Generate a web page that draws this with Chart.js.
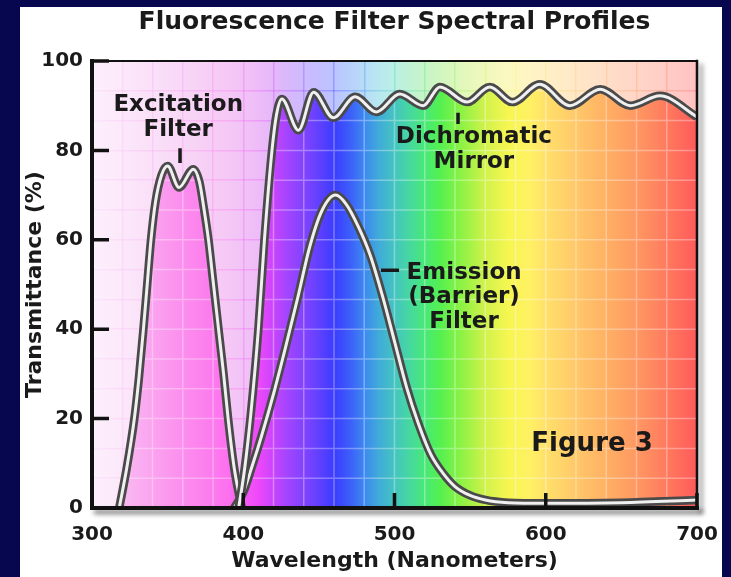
<!DOCTYPE html>
<html>
<head>
<meta charset="utf-8">
<title>Fluorescence Filter Spectral Profiles</title>
<script src="https://cdn.jsdelivr.net/npm/chart.js@4.4.1/dist/chart.umd.min.js"></script>
<style>
  html, body { margin: 0; padding: 0; background: #07074f; }
  body { width: 731px; height: 577px; overflow: hidden; position: relative; }
  #panel { position: absolute; left: 20px; top: 7px; width: 702px; height: 570px; background: #fff; }
  canvas { display: block; }
</style>
</head>
<body>
<div id="panel"><canvas id="chart" width="702" height="570"></canvas></div>
<script>
// ---- data: wavelength (nm) / transmittance (%) ----
const excitationNm = [318, 323, 328, 331, 334, 336.5, 339, 342, 346, 350, 357.5, 367, 371, 374, 377, 380, 384, 387, 390, 394, 399];
const excitationT  = [0, 9, 20, 29, 40, 50, 60, 68.5, 74.5, 76.5, 71.7, 75.8, 73, 67, 60, 51, 39, 30, 20, 9, 0];

const mirrorNm = [397, 401, 405, 410, 414, 419, 422, 425.5, 436.5, 446.5, 459.5, 474, 488, 503.5, 519, 530, 548, 563, 578, 596, 616, 636, 656, 675.5, 700];
const mirrorT  = [0, 9, 21, 40, 60, 80, 88, 91.5, 84.5, 93, 87.3, 92, 88.6, 92.6, 90, 94.2, 90.8, 94.2, 90.8, 94.8, 90, 93.7, 90, 92.2, 87.5];

const emissionNm = [394, 400, 406, 412, 420, 428, 436, 444, 452, 461, 468, 476, 484, 492, 500, 508, 516, 524, 532, 540, 550, 560, 575, 600, 650, 700];
const emissionT  = [0, 3.5, 9.5, 16, 25.5, 36, 47, 58.5, 66.5, 70, 68, 63, 56.5, 47.5, 37.3, 27, 18.7, 12, 7.8, 4.8, 2.8, 1.8, 1.2, 1.05, 1.2, 1.8];

const xMajorTicks = [300, 400, 500, 600, 700];
const yMajorTicks = [0, 20, 40, 60, 80, 100];

// ---- spectrum colours behind the curves ----
const spectrumNm = [300, 350, 390, 410, 420, 430, 445, 460, 470, 480, 490, 500, 510, 520, 530, 545, 560, 575, 590, 600, 620, 640, 660, 680, 700];
const vividColors = ['#f8d0f4', '#fb98ee', '#fd70ee', '#ee48fa', '#c844fc', '#a044ff', '#7242ff', '#3c3cff', '#3c5cfa', '#3c88f0',
  '#40acd8', '#44c4c0', '#46d8a0', '#48e878', '#54f050', '#90f244', '#d0f24c', '#f6f650', '#fff064', '#ffe06a',
  '#ffc86a', '#ffb064', '#ff9862', '#ff7a5e', '#ff5a5a'];
const paleColors = ['#fdf0fc', '#f9dcf7', '#f5c8f5', '#eebcf8', '#e4b8f9', '#d8b8fb', '#c8bcfe', '#bcc4ff', '#b8d0fc', '#b8dcf6',
  '#b8e8f0', '#bcf0e4', '#c0f2d4', '#c8f4c8', '#d0f6c0', '#e2f8bc', '#f0f8bc', '#fbf8c0', '#fff4c4', '#fff0c6',
  '#ffe8c8', '#ffdec8', '#ffd6c8', '#ffccc6', '#ffc2c2'];

const FONT = "'DejaVu Sans', 'Liberation Sans', Arial, sans-serif";
const INK = '#1a1a1a';

// callouts, placed in data units
const notes = [
  { lines: ['Excitation', 'Filter'], nm: 357, t: 90.2, size: 23, gap: 25 },
  { lines: ['Dichromatic', 'Mirror'], nm: 552.5, t: 83.0, size: 23, gap: 25 },
  { lines: ['Emission', '(Barrier)', 'Filter'], nm: 546, t: 52.6, size: 23, gap: 24.5 },
  { lines: ['Figure 3'], nm: 630.6, t: 14.3, size: 26, gap: 0 },
];
const pointers = [
  { nm: [358.2, 358.2], t: [80.5, 77.2] },
  { nm: [542, 542], t: [88.4, 85.9] },
  { nm: [491, 503], t: [53.2, 53.2] },
];

function withAlpha(hex, a) {
  const n = parseInt(hex.slice(1), 16);
  return `rgba(${n >> 16},${(n >> 8) & 255},${n & 255},${a})`;
}

function spectrumGradient(chart, colors, alpha) {
  const { ctx, chartArea: a, scales } = chart;
  const g = ctx.createLinearGradient(a.left, 0, a.right, 0);
  const w = a.right - a.left;
  spectrumNm.forEach((nm, i) => {
    const pos = (scales.x.getPixelForValue(nm) - a.left) / w;
    g.addColorStop(Math.min(1, Math.max(0, pos)), withAlpha(colors[i], alpha));
  });
  return g;
}

const isMultiple = (v, m) => Math.abs(v / m - Math.round(v / m)) < 1e-6;

function tube(label, nm, t, order) {
  const data = nm.map((x, i) => ({ x, y: t[i] }));
  const common = { data, pointRadius: 0, cubicInterpolationMode: 'monotone', clip: 0, borderCapStyle: 'butt', borderJoinStyle: 'round' };
  return [
    Object.assign({}, common, {
      label, order: order + 1, borderColor: '#4a4a4a', borderWidth: 8.5, fill: 'origin',
      backgroundColor: (c) => c.chart.chartArea ? spectrumGradient(c.chart, vividColors, 1) : 'transparent',
    }),
    Object.assign({}, common, {
      label: label + ' core', order, borderColor: '#f0f0f0', borderWidth: 3, fill: false,
    }),
  ];
}

const spectrumPlugin = {
  id: 'spectrum',
  beforeDraw(chart) {
    const { ctx, chartArea: a } = chart;
    ctx.save();
    ctx.fillStyle = spectrumGradient(chart, paleColors, 1);
    ctx.fillRect(a.left, a.top, a.right - a.left, a.bottom - a.top);
    ctx.restore();
  },
  beforeDatasetsDraw(chart) {
    // light grid over the coloured areas under the curves
    const { ctx, chartArea: a, scales: { x, y } } = chart;
    ctx.save();
    ctx.beginPath();
    chart.getSortedVisibleDatasetMetas().forEach((meta) => {
      if (!meta.dataset || !meta.dataset.options.fill) return;
      const pts = meta.data;
      meta.dataset.path(ctx);
      ctx.lineTo(pts[pts.length - 1].x, a.bottom);
      ctx.lineTo(pts[0].x, a.bottom);
      ctx.closePath();
    });
    ctx.clip();
    ctx.strokeStyle = 'rgba(255,255,255,0.33)';
    ctx.lineWidth = 1.5;
    ctx.beginPath();
    x.ticks.forEach((tk) => {
      const px = x.getPixelForValue(tk.value);
      ctx.moveTo(px, a.top); ctx.lineTo(px, a.bottom);
    });
    y.ticks.forEach((tk) => {
      const py = y.getPixelForValue(tk.value);
      ctx.moveTo(a.left, py); ctx.lineTo(a.right, py);
    });
    ctx.stroke();
    ctx.restore();
  },
  afterDatasetsDraw(chart) {
    const { ctx, chartArea: a, scales: { x, y } } = chart;
    ctx.save();
    ctx.strokeStyle = '#111';
    ctx.lineCap = 'square';
    // right + bottom edges with drop shadow
    ctx.shadowColor = 'rgba(0,0,0,0.55)';
    ctx.shadowBlur = 5;
    ctx.shadowOffsetX = 4;
    ctx.shadowOffsetY = 4;
    ctx.lineWidth = 2.5;
    ctx.beginPath();
    ctx.moveTo(a.right, a.top); ctx.lineTo(a.right, a.bottom);
    ctx.stroke();
    ctx.lineWidth = 4;
    ctx.beginPath();
    ctx.moveTo(a.right, a.bottom); ctx.lineTo(a.left, a.bottom);
    ctx.stroke();
    ctx.shadowColor = 'transparent';
    ctx.lineWidth = 2;
    ctx.beginPath();
    ctx.moveTo(a.left, a.top); ctx.lineTo(a.right, a.top);
    ctx.stroke();
    ctx.lineWidth = 4;
    ctx.beginPath();
    ctx.moveTo(a.left, a.top); ctx.lineTo(a.left, a.bottom);
    ctx.stroke();
    // inward tick marks
    ctx.lineCap = 'butt';
    ctx.lineWidth = 3.5;
    ctx.beginPath();
    yMajorTicks.forEach((v) => {
      const py = y.getPixelForValue(v);
      ctx.moveTo(a.left, py); ctx.lineTo(a.left + 17, py);
    });
    xMajorTicks.forEach((v) => {
      const px = x.getPixelForValue(v);
      ctx.moveTo(px, a.bottom); ctx.lineTo(px, a.bottom - 15);
    });
    ctx.stroke();
    ctx.restore();
  },
  afterDraw(chart) {
    const { ctx, scales: { x, y } } = chart;
    ctx.save();
    ctx.fillStyle = INK;
    ctx.textAlign = 'center';
    ctx.textBaseline = 'middle';
    notes.forEach((n) => {
      ctx.font = `bold ${n.size}px ${FONT}`;
      const cx = x.getPixelForValue(n.nm);
      const cy = y.getPixelForValue(n.t);
      n.lines.forEach((line, i) => ctx.fillText(line, cx, cy + i * n.gap));
    });
    ctx.strokeStyle = INK;
    ctx.lineWidth = 3.5;
    ctx.beginPath();
    pointers.forEach((p) => {
      ctx.moveTo(x.getPixelForValue(p.nm[0]), y.getPixelForValue(p.t[0]));
      ctx.lineTo(x.getPixelForValue(p.nm[1]), y.getPixelForValue(p.t[1]));
    });
    ctx.stroke();
    ctx.restore();
  },
};

const datasets = [].concat(
  tube('Excitation Filter', excitationNm, excitationT, 5),
  tube('Emission (Barrier) Filter', emissionNm, emissionT, 3),
  tube('Dichromatic Mirror', mirrorNm, mirrorT, 1)
);

const tickFont = { family: FONT, weight: 'bold', size: 20 };

new Chart(document.getElementById('chart'), {
  type: 'line',
  data: { datasets },
  options: {
    responsive: false,
    animation: false,
    layout: { padding: { left: 0, right: 25, top: 0, bottom: 0 } },
    plugins: {
      legend: { display: false },
      tooltip: { enabled: false },
      filler: { drawTime: 'beforeDatasetsDraw' },
      title: {
        display: true,
        text: 'Fluorescence Filter Spectral Profiles',
        color: INK,
        fullSize: false,
        font: { family: FONT, weight: 'bold', size: 25, lineHeight: 1.2 },
        padding: { top: 0, bottom: 24 },
      },
    },
    scales: {
      x: {
        type: 'linear',
        min: 300,
        max: 700,
        afterFit: (s) => { s.height = 69; s.paddingLeft = 0; s.paddingRight = 0; },
        grid: {
          drawTicks: false,
          lineWidth: 1.5,
          color: (c) => c.chart.chartArea ? spectrumGradient(c.chart, vividColors, 0.3) : 'transparent',
        },
        border: { display: false },
        ticks: {
          stepSize: 20,
          autoSkip: false,
          maxRotation: 0,
          padding: 15,
          color: INK,
          font: tickFont,
          callback: (v) => (isMultiple(v, 100) ? String(Math.round(v)) : ''),
        },
        title: {
          display: true,
          text: 'Wavelength (Nanometers)',
          color: INK,
          font: { family: FONT, weight: 'bold', size: 22, lineHeight: 1.2 },
          padding: { top: 0, bottom: 3 },
        },
      },
      y: {
        min: 0,
        max: 100,
        afterFit: (s) => { s.width = 72; s.paddingTop = 0; s.paddingBottom = 0; },
        grid: {
          drawTicks: false,
          lineWidth: 1.5,
          color: (c) => c.chart.chartArea ? spectrumGradient(c.chart, vividColors, 0.3) : 'transparent',
        },
        border: { display: false },
        ticks: {
          stepSize: 20 / 3,
          autoSkip: false,
          padding: 9,
          color: INK,
          font: tickFont,
          callback: (v) => (isMultiple(v, 20) ? String(Math.round(v)) : ''),
        },
        title: {
          display: true,
          text: 'Transmittance (%)',
          color: INK,
          font: { family: FONT, weight: 'bold', size: 22, lineHeight: 1.2 },
          padding: { top: 2, bottom: 0 },
        },
      },
    },
  },
  plugins: [spectrumPlugin],
});
</script>
</body>
</html>
